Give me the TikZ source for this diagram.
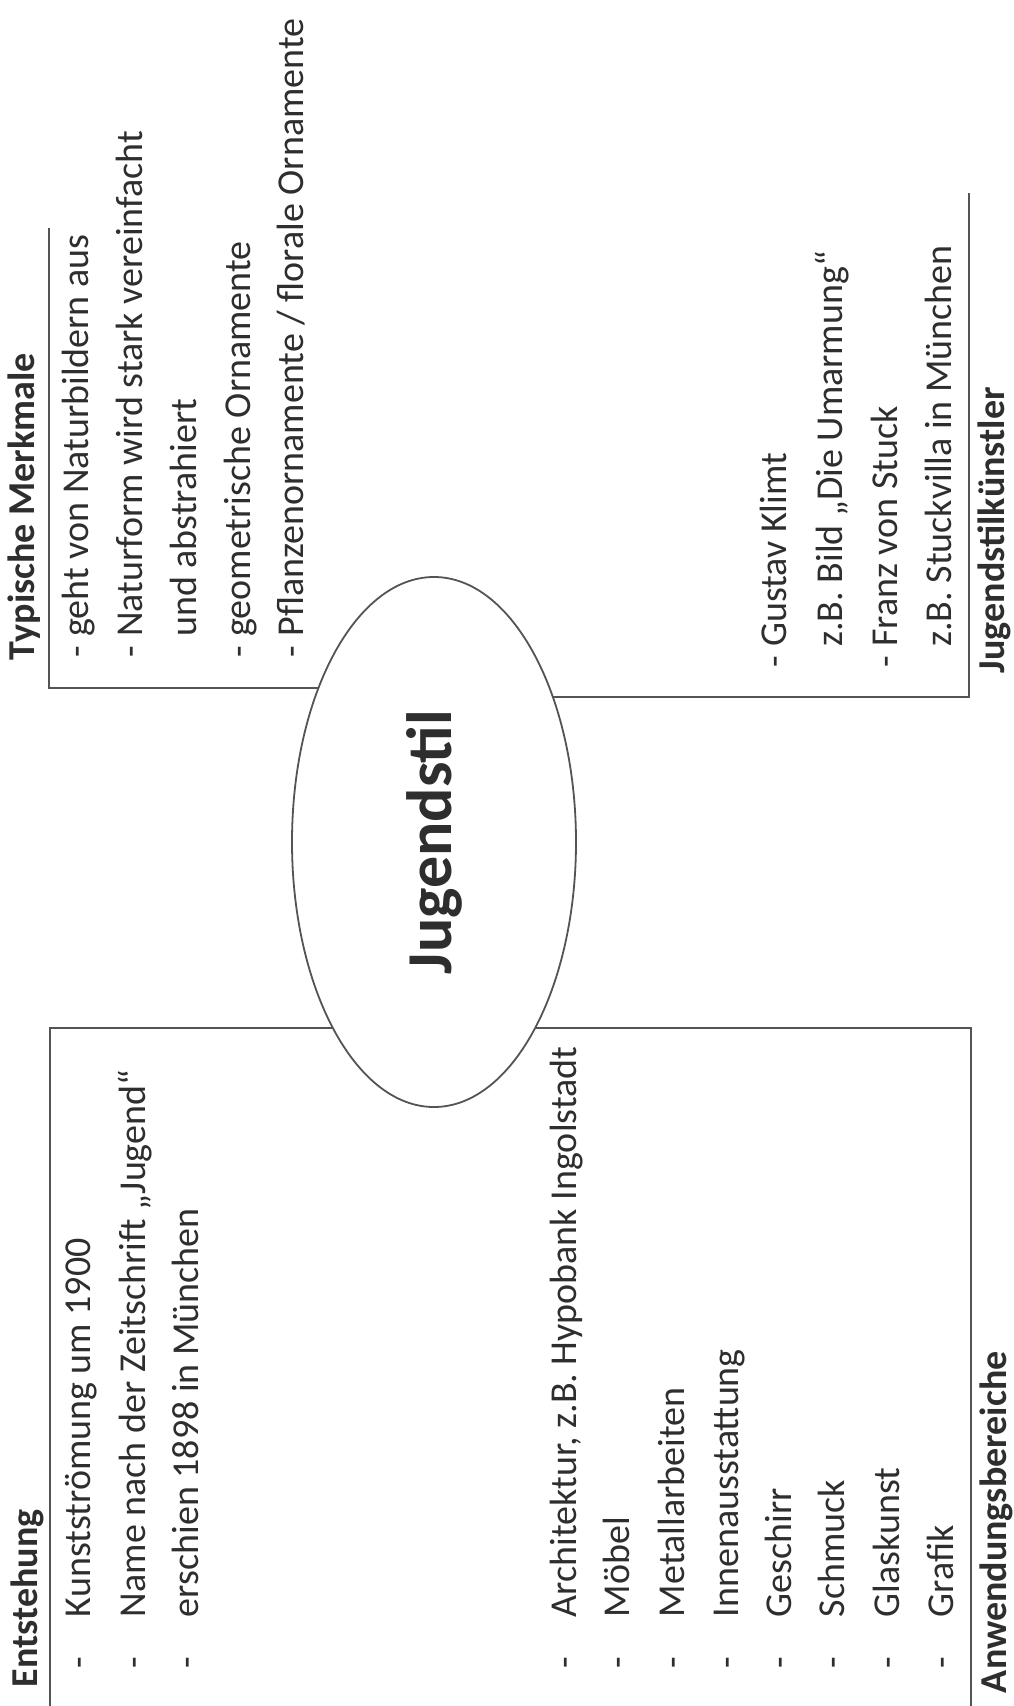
\documentclass[tikz,border=0pt]{standalone}
\usepackage{fontspec}
\setmainfont{Carlito}
\usetikzlibrary{shapes.geometric}
\definecolor{ink}{rgb}{0.18,0.18,0.18}
\definecolor{rulec}{rgb}{0.33,0.33,0.33}
\begin{document}
\begin{tikzpicture}[x=0.5pt,y=-0.5pt,
  txt/.style={rotate=90, anchor=base west, inner sep=0pt, outer sep=0pt,
              font=\fontsize{19}{23}\selectfont, text=ink},
  hdr/.style={txt, font=\fontsize{19}{23}\selectfont\bfseries},
  brk/.style={draw=rulec, line width=1.1pt},
]
\useasboundingbox[fill=white] (0,0) rectangle (1013,1706);

% central ellipse
\node[ellipse, draw=rulec, line width=0.9pt, rotate=90,
      minimum width=265pt, minimum height=142pt, inner sep=0pt,
      font=\fontsize{32}{38}\selectfont\bfseries, text=ink] (js) at (434,842) {Jugendstil};

% bracket coordinates
\coordinate (tmE) at (318.4,688);  \coordinate (tmC) at (49,688);  \coordinate (tmT) at (49,228);
\coordinate (enE) at (332.9,1028); \coordinate (enC) at (50,1028); \coordinate (enB) at (50,1706);
\coordinate (jkE) at (552.9,697);  \coordinate (jkC) at (969,697); \coordinate (jkT) at (969,193);
\coordinate (abE) at (535.1,1028); \coordinate (abC) at (971,1028);\coordinate (abB) at (971,1706);

\draw[brk] (tmE) -- (tmC) -- (tmT);
\draw[brk] (enE) -- (enC) -- (enB);
\draw[brk] (jkE) -- (jkC) -- (jkT);
\draw[brk] (abE) -- (abC) -- (abB);

% Typische Merkmale
\node[hdr] (tmh) at (34,660) {Typische Merkmale};
\node[txt] (tm1) at (88,657)  {- geht von Naturbildern aus};
\node[txt] (tm2) at (142,657) {- Naturform wird stark vereinfacht};
\node[txt] (tm3) at (196,657) {\phantom{- }und abstrahiert};
\node[txt] (tm4) at (250,657) {- geometrische Ornamente};
\node[txt] (tm5) at (303,657) {- Pflanzenornamente / florale Ornamente};

% Entstehung
\node[hdr] (enh) at (37,1687) {Entstehung};
\node[txt] (end1) at (90,1668)  {-};
\node[txt] (en1)  at (90,1617)  {Kunstströmung um 1900};
\node[txt] (end2) at (145,1668) {-};
\node[txt] (en2)  at (145,1617) {Name nach der Zeitschrift „Jugend“};
\node[txt] (end3) at (198,1668) {-};
\node[txt] (en3)  at (198,1617) {erschien 1898 in München};

% Jugendstilkuenstler
\node[hdr] (jkh) at (1004,673) {Jugendstilkünstler};
\node[txt] (jk1) at (786,667) {- Gustav Klimt};
\node[txt] (jk2) at (842,667) {\phantom{- }z.B. Bild „Die Umarmung“};
\node[txt] (jk3) at (897,667) {- Franz von Stuck};
\node[txt] (jk4) at (951,667) {\phantom{- }z.B. Stuckvilla in München};

% Anwendungsbereiche
\node[hdr] (abh) at (1006,1693) {Anwendungsbereiche};
\node[txt] (abd1) at (576,1668) {-}; \node[txt] (ab1) at (576,1617) {Architektur, z.B. Hypobank Ingolstadt};
\node[txt] (abd2) at (629,1668) {-}; \node[txt] (ab2) at (629,1617) {Möbel};
\node[txt] (abd3) at (684,1668) {-}; \node[txt] (ab3) at (684,1617) {Metallarbeiten};
\node[txt] (abd4) at (738,1668) {-}; \node[txt] (ab4) at (738,1617) {Innenausstattung};
\node[txt] (abd5) at (791,1668) {-}; \node[txt] (ab5) at (791,1617) {Geschirr};
\node[txt] (abd6) at (844,1668) {-}; \node[txt] (ab6) at (844,1617) {Schmuck};
\node[txt] (abd7) at (899,1668) {-}; \node[txt] (ab7) at (899,1617) {Glaskunst};
\node[txt] (abd8) at (953,1668) {-}; \node[txt] (ab8) at (953,1617) {Grafik};
\end{tikzpicture}
\end{document}
